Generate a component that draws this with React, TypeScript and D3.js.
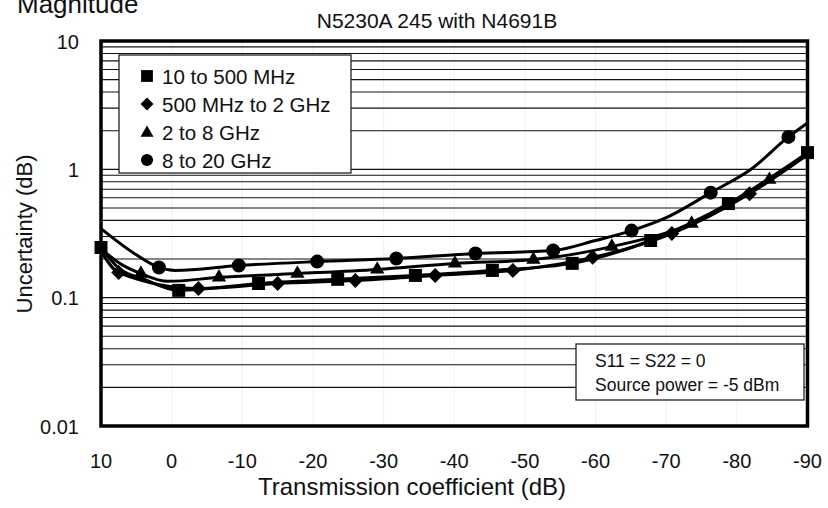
import * as d3 from 'd3'
import React from 'react'

const W = 828
const H = 508
const FONT = '"Liberation Sans", Arial, sans-serif'

const xTicks = [10, 0, -10, -20, -30, -40, -50, -60, -70, -80, -90]
const yTicks = [10, 1, 0.1, 0.01]
const yTickLabels = ['10', '1', '0.1', '0.01']

// [transmission dB, uncertainty dB]
const squareLine = [[10, 0.246], [7.5, 0.17], [4, 0.14], [-1, 0.114], [-12.3, 0.129], [-23.5, 0.139], [-34.5, 0.149], [-45.4, 0.163], [-56.7, 0.185], [-67.8, 0.279], [-78.8, 0.541], [-90, 1.35]]
const squareMarks = [[10, 0.246], [-1, 0.114], [-12.3, 0.129], [-23.5, 0.139], [-34.5, 0.149], [-45.4, 0.163], [-56.7, 0.185], [-67.8, 0.279], [-78.8, 0.541], [-90, 1.35]]

const diamondLine = [[10, 0.23], [7.5, 0.157], [-3.8, 0.118], [-15, 0.129], [-26, 0.136], [-37.3, 0.149], [-48.3, 0.163], [-59.6, 0.206], [-70.8, 0.316], [-81.8, 0.646], [-90, 1.3]]
const diamondMarks = [[7.5, 0.157], [-3.8, 0.118], [-15, 0.129], [-26, 0.136], [-37.3, 0.149], [-48.3, 0.163], [-59.6, 0.206], [-70.8, 0.316], [-81.8, 0.646]]

const triangleLine = [[10, 0.24], [7, 0.18], [4.35, 0.154], [0.5, 0.134], [-6.7, 0.144], [-17.8, 0.154], [-29.1, 0.166], [-40.1, 0.185], [-51.2, 0.198], [-62.3, 0.25], [-73.6, 0.378], [-84.6, 0.83], [-90, 1.3]]
const triangleMarks = [[4.35, 0.154], [-6.7, 0.144], [-17.8, 0.154], [-29.1, 0.166], [-40.1, 0.185], [-51.2, 0.198], [-62.3, 0.25], [-73.6, 0.378], [-84.6, 0.83]]

const circleLine = [[10, 0.345], [5.3, 0.221], [1.8, 0.172], [-0.5, 0.163], [-9.5, 0.178], [-20.6, 0.191], [-31.8, 0.202], [-43, 0.221], [-54, 0.233], [-60, 0.279], [-65.1, 0.333], [-70, 0.42], [-76.3, 0.658], [-82, 1.0], [-87.3, 1.79], [-90, 2.3]]
const circleMarks = [[1.8, 0.172], [-9.5, 0.178], [-20.6, 0.191], [-31.8, 0.202], [-43, 0.221], [-54, 0.233], [-65.1, 0.333], [-76.3, 0.658], [-87.3, 1.79]]

const legendLabels = ['10 to 500 MHz', '500 MHz to 2 GHz', '2 to 8 GHz', '8 to 20 GHz']
const noteLines = ['S11 = S22 = 0', 'Source power = -5 dBm']

const x = d3.scaleLinear().domain([10, -90]).range([101, 807.5])
const y = d3.scaleLog().domain([0.01, 10]).range([426, 41])

const line = d3
  .line<number[]>()
  .x(d => x(d[0]))
  .y(d => y(d[1]))
  .curve(d3.curveMonotoneX)

const markerPath = (kind: string, big = true) => {
  switch (kind) {
    case 'square':
      return d3.symbol(d3.symbolSquare, big ? 169 : 140)()
    case 'diamond':
      return d3.symbol(d3.symbolSquare, big ? 112 : 84)()
    case 'triangle':
      return d3.symbol(d3.symbolTriangle, big ? 88 : 74)()
    default:
      return d3.symbol(d3.symbolCircle, big ? 154 : 116)()
  }
}

const Marker = ({ kind, cx, cy, big = true }) => (
  <path
    d={markerPath(kind, big)}
    transform={`translate(${cx},${cy})${kind === 'diamond' ? ' rotate(45)' : ''}`}
    fill="#000"
  />
)

const series = [
  { kind: 'square', line: squareLine, marks: squareMarks },
  { kind: 'diamond', line: diamondLine, marks: diamondMarks },
  { kind: 'triangle', line: triangleLine, marks: triangleMarks },
  { kind: 'circle', line: circleLine, marks: circleMarks },
]

export default function App() {
  const gridValues = y.ticks().filter(v => v > 0.01 && v < 10)

  return (
    <svg width={W} height={H} style={{ position: 'absolute', left: 0, top: 0, background: '#fff' }} fontFamily={FONT}>
      <rect width={W} height={H} fill="#fff" />

      {/* faint vertical grid */}
      {xTicks.slice(1, -1).map(t => (
        <line key={'v' + t} x1={x(t)} x2={x(t)} y1={y(10)} y2={y(0.01)} stroke="#f1f1f1" strokeWidth={1} />
      ))}

      {/* log grid */}
      {gridValues.map(v => (
        <line key={'h' + v} x1={x(10)} x2={x(-90)} y1={y(v)} y2={y(v)} stroke="#111" strokeWidth={1.1} />
      ))}

      <rect x={x(10)} y={y(10)} width={x(-90) - x(10)} height={y(0.01) - y(10)} fill="none" stroke="#000" strokeWidth={3.5} />

      {/* curves */}
      {series.map(s => (
        <path key={s.kind} d={line(s.line)} fill="none" stroke="#000" strokeWidth={3} />
      ))}
      {series.map(s =>
        s.marks.map((d, i) => <Marker key={s.kind + i} kind={s.kind} cx={x(d[0])} cy={y(d[1])} />)
      )}

      {/* legend */}
      <rect x={119} y={55} width={232} height={118} fill="#fff" stroke="#222" strokeWidth={1.3} />
      {series.map((s, i) => (
        <g key={'lg' + s.kind} transform={`translate(0,${76 + i * 28})`}>
          <Marker kind={s.kind} cx={147} cy={s.kind === 'triangle' ? 1 : 0} big={false} />
          <text x={162} y={7.5} fontSize={20.5} fill="#111">
            {legendLabels[i]}
          </text>
        </g>
      ))}

      {/* note box */}
      <rect x={576} y={344} width={228} height={56} fill="#fff" stroke="#222" strokeWidth={1.3} />
      {noteLines.map((t, i) => (
        <text key={t} x={595} y={367 + i * 24} fontSize={17.5} fill="#111">
          {t}
        </text>
      ))}

      {/* axes labels */}
      {xTicks.map(t => (
        <text key={'xt' + t} x={x(t)} y={468} fontSize={20} textAnchor="middle" fill="#111">
          {t}
        </text>
      ))}
      {yTicks.map((t, i) => (
        <text key={'yt' + t} x={79} y={y(t) + 7.5} fontSize={20} textAnchor="end" fill="#111">
          {yTickLabels[i]}
        </text>
      ))}

      <text x={412} y={495} fontSize={24} textAnchor="middle" fill="#111">
        Transmission coefficient (dB)
      </text>
      <text transform="translate(32,234) rotate(-90)" fontSize={22} textAnchor="middle" fill="#111">
        Uncertainty (dB)
      </text>
      <text x={437} y={28} fontSize={21} textAnchor="middle" fill="#111">
        N5230A 245 with N4691B
      </text>
      <text x={17} y={13} fontSize={26} fill="#111">
        Magnitude
      </text>
    </svg>
  )
}
